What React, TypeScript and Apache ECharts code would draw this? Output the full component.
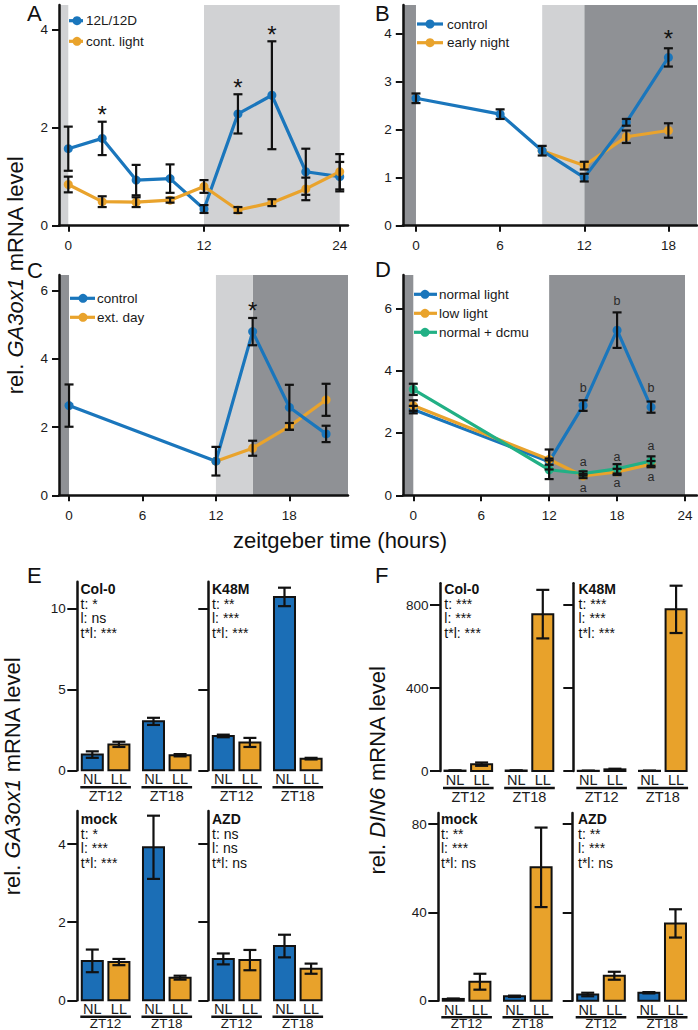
import { useEffect, useRef } from "react";
import * as echarts from "echarts";

const FONT = "'Liberation Sans', Arial, Helvetica, sans-serif";
const INK = "#111111";
const BLUE = "#1a76bc";
const ORANGE = "#e9a32c";
const GREEN = "#22b085";
const BAR_BLUE = "#1b6eb6";
const BAR_ORANGE = "#e8a22b";
const LIGHT = "#d1d2d4";
const DARK = "#8f9195";

// ---------- Panel A ----------
const hoursA = [0, 3, 6, 9, 12, 15, 18, 21, 24];
const a12L12D = [1.57, 1.78, 0.93, 0.96, 0.34, 2.28, 2.66, 1.1, 1.0];
const a12L12DErr = [0.45, 0.34, 0.31, 0.29, 0.08, 0.4, 1.1, 0.47, 0.3];
const aContLight = [0.84, 0.49, 0.48, 0.52, 0.8, 0.32, 0.47, 0.75, 1.1];
const aContLightErr = [0.16, 0.11, 0.1, 0.05, 0.13, 0.06, 0.07, 0.23, 0.36];
const aStarX = [3, 15, 18];
const aStarY = [2.37, 2.91, 4.0];
const aLightShade = [[-0.82, 0], [12, 24]];
const xTicksA = [0, 12, 24];
const yTicksA = [0, 2, 4];

// ---------- Panel B ----------
const hoursB = [0, 6, 9, 12, 15, 18];
const bControl = [2.65, 2.32, 1.56, 1.0, 2.15, 3.5];
const bControlErr = [0.1, 0.1, 0.1, 0.08, 0.07, 0.19];
const hoursBNight = [9, 12, 15, 18];
const bEarlyNight = [1.56, 1.25, 1.85, 1.98];
const bEarlyNightErr = [null, 0.08, 0.13, 0.15];
const bStarX = [18];
const bStarY = [4.0];
const bDarkShade = [[-0.94, 0], [12, 20.04]];
const bLightShade = [[9, 12]];
const xTicksB = [0, 6, 12, 18];
const yTicksB = [0, 1, 2, 3, 4];

// ---------- Panel C ----------
const hoursC = [0, 12, 15, 18, 21];
const cControl = [2.63, 1.0, 4.8, 2.58, 1.8];
const cControlErr = [0.62, 0.42, 0.4, 0.66, 0.24];
const hoursCExt = [12, 15, 18, 21];
const cExtDay = [1.0, 1.38, 2.02, 2.8];
const cExtDayErr = [null, 0.22, 0.1, 0.47];
const cStarX = [15];
const cStarY = [5.56];
const cDarkShade = [[-0.82, 0], [15, 22.79]];
const cLightShade = [[12, 15]];
const xTicksC = [0, 6, 12, 18];
const yTicksC = [0, 2, 4, 6];

// ---------- Panel D ----------
const hoursD = [0, 12, 15, 18, 21];
const dNormal = [2.75, 1.08, 2.88, 5.3, 2.83];
const dNormalErr = [0.12, 0.1, 0.17, 0.57, 0.18];
const dLow = [2.88, 1.15, 0.62, 0.75, 1.0];
const dLowErr = [0.17, 0.32, 0.07, 0.1, 0.1];
const dDcmu = [3.4, 0.82, 0.7, 0.85, 1.1];
const dDcmuErr = [0.18, 0.3, 0.07, 0.15, 0.15];
const dLetterX = [15, 18, 21, 15, 18, 21, 15, 18, 21];
const dLetterY = [3.45, 6.24, 3.45, 1.08, 1.24, 1.59, 0.22, 0.4, 0.6];
const dLetters = ["b", "b", "b", "a", "a", "a", "a", "a", "a"];
const dDarkShade = [[-0.91, 0], [12, 24]];
const xTicksD = [0, 6, 12, 18, 24];
const yTicksD = [0, 2, 4, 6];

// ---------- Panels E / F (bars) ----------
const barConds = ["NL", "LL", "NL", "LL"];
const barTimes = ["ZT12", "ZT18"];

const eCol0 = [0.97, 1.6, 3.02, 0.93];
const eCol0Err = [0.2, 0.16, 0.22, 0.07];
const eK48M = [2.12, 1.72, 10.7, 0.72];
const eK48MErr = [0.08, 0.28, 0.57, 0.05];
const eMock = [1.01, 0.98, 3.92, 0.58];
const eMockErr = [0.29, 0.08, 0.81, 0.05];
const eAZD = [1.06, 1.03, 1.39, 0.81];
const eAZDErr = [0.14, 0.26, 0.29, 0.13];

const fCol0 = [2, 33, 2, 756];
const fCol0Err = [1, 8, 1, 117];
const fK48M = [1, 8, 1, 779];
const fK48MErr = [0.5, 3, 0.5, 114];
const fMock = [0.8, 8.6, 2.0, 60.4];
const fMockErr = [0.2, 3.6, 0.3, 18];
const fAZD = [2.8, 11.3, 3.6, 35];
const fAZDErr = [0.8, 1.8, 0.3, 6.4];

const eCol0Stats = ["t: *", "l: ns", "t*l: ***"];
const eK48MStats = ["t: **", "l: ***", "t*l: ***"];
const eMockStats = ["t: *", "l: ***", "t*l: ***"];
const eAZDStats = ["t: ns", "l: ns", "t*l: ns"];
const fCol0Stats = ["t: ***", "l: ***", "t*l: ***"];
const fK48MStats = ["t: ***", "l: ***", "t*l: ***"];
const fMockStats = ["t: **", "l: ***", "t*l: ns"];
const fAZDStats = ["t: **", "l: ***", "t*l: ns"];

const yTicksE1 = [0, 5, 10];
const yTicksE2 = [0, 2, 4];
const yTicksF1 = [0, 400, 800];
const yTicksF2 = [0, 40, 80];

// ---------- layout ----------
const BW = 0.79;
const BAR_UNIT_MIN = -0.564;
const BAR_UNIT_MAX = 3.947;
const barPos = barConds.map((_, i) => Math.floor(i / 2) * 2.3 + (i % 2));

const lineGrids = [
  { left: 59, top: 5, width: 289, height: 220.7, xmin: -0.82, xmax: 24.73, ymax: 4.5 },
  { left: 402.8, top: 5, width: 294.2, height: 220.7, xmin: -0.94, xmax: 20.04, ymax: 4.59 },
  { left: 59, top: 275, width: 289, height: 220.3, xmin: -0.82, xmax: 22.79, ymax: 6.46 },
  { left: 403, top: 275, width: 294, height: 220.3, xmin: -0.91, xmax: 25.06, ymax: 7.07 },
];

const barPanels = [
  { left: 77.3, top: 581.7, height: 188.6, ymax: 11.64, ticks: yTicksE1, labels: true, title: "Col-0", stats: eCol0Stats, v: eCol0, e: eCol0Err, tx: 80.5, ty: 589, bottom: false },
  { left: 208.3, top: 581.7, height: 188.6, ymax: 11.64, ticks: yTicksE1, labels: false, title: "K48M", stats: eK48MStats, v: eK48M, e: eK48MErr, tx: 212, ty: 589, bottom: false },
  { left: 77.3, top: 811, height: 189.3, ymax: 4.85, ticks: yTicksE2, labels: true, title: "mock", stats: eMockStats, v: eMock, e: eMockErr, tx: 80.8, ty: 819, bottom: true },
  { left: 208.3, top: 811, height: 189.3, ymax: 4.85, ticks: yTicksE2, labels: false, title: "AZD", stats: eAZDStats, v: eAZD, e: eAZDErr, tx: 212, ty: 819, bottom: true },
  { left: 440, top: 583.3, height: 187.7, ymax: 904.6, ticks: yTicksF1, labels: true, title: "Col-0", stats: fCol0Stats, v: fCol0, e: fCol0Err, tx: 444.3, ty: 589, bottom: false },
  { left: 573.3, top: 583.3, height: 187.7, ymax: 904.6, ticks: yTicksF1, labels: false, title: "K48M", stats: fK48MStats, v: fK48M, e: fK48MErr, tx: 578.5, ty: 589, bottom: false },
  { left: 438.3, top: 813, height: 187.7, ymax: 85, ticks: yTicksF2, labels: true, title: "mock", stats: fMockStats, v: fMock, e: fMockErr, tx: 441, ty: 819, bottom: true },
  { left: 572.7, top: 813, height: 187.7, ymax: 85, ticks: yTicksF2, labels: false, title: "AZD", stats: fAZDStats, v: fAZD, e: fAZDErr, tx: 578, ty: 819, bottom: true },
];

function axisCommon(ticks: number[], showLabel: boolean, tickLen: number, margin: number) {
  return {
    z: 6,
    axisLine: { show: true, onZero: false, lineStyle: { color: INK, width: 2.5 } },
    axisTick: { show: true, inside: false, length: tickLen, lineStyle: { color: INK, width: 2 }, customValues: ticks },
    axisLabel: { show: showLabel, customValues: ticks, margin, fontSize: 13.5, color: "#1a1a1a", fontFamily: FONT },
    splitLine: { show: false },
  };
}

function errorBarRender(capHalf: number) {
  return (params: any, api: any) => {
    const x = api.value(0), y = api.value(1), e = api.value(2);
    const t = api.coord([x, y + e]);
    const b = api.coord([x, y - e]);
    const st = { stroke: INK, lineWidth: 2.2 };
    return {
      type: "group",
      children: [
        { type: "line", shape: { x1: t[0], y1: t[1], x2: b[0], y2: b[1] }, style: st },
        { type: "line", shape: { x1: t[0] - capHalf, y1: t[1], x2: t[0] + capHalf, y2: t[1] }, style: st },
        { type: "line", shape: { x1: b[0] - capHalf, y1: b[1], x2: b[0] + capHalf, y2: b[1] }, style: st },
      ],
    };
  };
}

function shadeData(periods: number[][], color: string) {
  return periods.map((p) => [{ xAxis: p[0], itemStyle: { color } }, { xAxis: p[1] }]);
}

function lineSeries(gi: number, name: string, xs: number[], ys: number[], color: string, shade?: any[]) {
  const s: any = {
    type: "line",
    name,
    xAxisIndex: gi,
    yAxisIndex: gi,
    data: xs.map((x, i) => [x, ys[i]]),
    symbol: "circle",
    symbolSize: 9,
    showSymbol: true,
    silent: true,
    z: 3,
    lineStyle: { color, width: 3.2 },
    itemStyle: { color },
  };
  if (shade) s.markArea = { silent: true, z: 1, data: shade };
  return s;
}

function errSeries(gi: number, xs: number[], ys: number[], errs: (number | null)[]) {
  return {
    type: "custom",
    xAxisIndex: gi,
    yAxisIndex: gi,
    z: 4,
    silent: true,
    clip: false,
    data: xs.map((x, i) => [x, ys[i], errs[i]]).filter((d) => d[2] != null),
    renderItem: errorBarRender(4.5),
  };
}

function textSeries(gi: number, xs: number[], ys: number[], texts: string[], fontSize: number, dy: number, color: string) {
  return {
    type: "custom",
    xAxisIndex: gi,
    yAxisIndex: gi,
    z: 5,
    silent: true,
    clip: false,
    data: xs.map((x, i) => [x, ys[i]]),
    renderItem: (params: any, api: any) => {
      const p = api.coord([api.value(0), api.value(1)]);
      return {
        type: "text",
        x: p[0],
        y: p[1] + dy,
        style: { text: texts[params.dataIndex], fontSize, fontFamily: FONT, fill: color, align: "center", verticalAlign: "middle" },
      };
    },
  };
}

function barSeries(gi: number, values: number[], errs: number[]) {
  return {
    type: "custom",
    xAxisIndex: gi,
    yAxisIndex: gi,
    z: 3,
    silent: true,
    clip: false,
    data: values.map((v, i) => [barPos[i], v, errs[i]]),
    renderItem: (params: any, api: any) => {
      const i = params.dataIndex;
      const x = api.value(0), v = api.value(1), e = api.value(2);
      const l = api.coord([x - BW / 2, 0]);
      const r = api.coord([x + BW / 2, v]);
      const c = api.coord([x, 0]);
      const t = api.coord([x, v + e]);
      const b = api.coord([x, Math.max(v - e, 0)]);
      const cap = 6.5;
      const st = { stroke: INK, lineWidth: 2.2 };
      return {
        type: "group",
        children: [
          {
            type: "rect",
            shape: { x: l[0], y: r[1], width: r[0] - l[0], height: l[1] - r[1] },
            style: { fill: barConds[i] === "NL" ? BAR_BLUE : BAR_ORANGE, stroke: INK, lineWidth: 2 },
          },
          { type: "line", shape: { x1: t[0], y1: t[1], x2: b[0], y2: b[1] }, style: st },
          { type: "line", shape: { x1: t[0] - cap, y1: t[1], x2: t[0] + cap, y2: t[1] }, style: st },
          { type: "line", shape: { x1: b[0] - cap, y1: b[1], x2: b[0] + cap, y2: b[1] }, style: st },
          {
            type: "text",
            x: c[0],
            y: c[1] + 9,
            style: { text: barConds[i], fontSize: 14.5, fontFamily: FONT, fill: "#1a1a1a", align: "center", verticalAlign: "middle" },
          },
        ],
      };
    },
  };
}

function groupSeries(gi: number, bottomRow: boolean) {
  const lineDy = bottomRow ? 16.5 : 17;
  const textDy = bottomRow ? 23 : 25.5;
  const fs = bottomRow ? 13.5 : 14.5;
  return {
    type: "custom",
    xAxisIndex: gi,
    yAxisIndex: gi,
    z: 3,
    silent: true,
    clip: false,
    data: barTimes.map((_, g) => [barPos[g * 2], barPos[g * 2 + 1]]),
    renderItem: (params: any, api: any) => {
      const a = api.coord([api.value(0) - BW / 2, 0]);
      const b = api.coord([api.value(1) + BW / 2, 0]);
      return {
        type: "group",
        children: [
          { type: "line", shape: { x1: a[0] - 1.5, y1: a[1] + lineDy, x2: b[0] + 1.5, y2: a[1] + lineDy }, style: { stroke: INK, lineWidth: 2.6 } },
          {
            type: "text",
            x: (a[0] + b[0]) / 2,
            y: a[1] + textDy,
            style: { text: barTimes[params.dataIndex], fontSize: fs, fontFamily: FONT, fill: "#1a1a1a", align: "center", verticalAlign: "middle" },
          },
        ],
      };
    },
  };
}

function legendGraphics(x1: number, x2: number, cx: number, tx: number, ys: number[], names: string[], colors: string[]) {
  const out: any[] = [];
  ys.forEach((y, i) => {
    out.push({ type: "line", z: 20, shape: { x1, y1: y, x2, y2: y }, style: { stroke: colors[i], lineWidth: 3.2 } });
    out.push({ type: "circle", z: 20, shape: { cx, cy: y, r: 4.5 }, style: { fill: colors[i] } });
    out.push({ type: "text", z: 20, x: tx, y, style: { text: names[i], fontSize: 13.5, fontFamily: FONT, fill: "#1a1a1a", align: "left", verticalAlign: "middle" } });
  });
  return out;
}

function buildOption() {
  const grid: any[] = [];
  const xAxis: any[] = [];
  const yAxis: any[] = [];
  const series: any[] = [];
  const graphic: any[] = [];

  const lineX = [xTicksA, xTicksB, xTicksC, xTicksD];
  const lineY = [yTicksA, yTicksB, yTicksC, yTicksD];
  lineGrids.forEach((g, i) => {
    grid.push({ left: g.left, top: g.top, width: g.width, height: g.height, outerBoundsMode: "none" });
    xAxis.push({ type: "value", gridIndex: i, min: g.xmin, max: g.xmax, ...axisCommon(lineX[i], true, 6, 13) });
    yAxis.push({ type: "value", gridIndex: i, min: 0, max: g.ymax, ...axisCommon(lineY[i], true, 7, 11) });
  });

  barPanels.forEach((p, k) => {
    const gi = 4 + k;
    grid.push({ left: p.left, top: p.top, width: 120, height: p.height, outerBoundsMode: "none" });
    xAxis.push({ type: "value", gridIndex: gi, min: BAR_UNIT_MIN, max: BAR_UNIT_MAX, show: false });
    yAxis.push({ type: "value", gridIndex: gi, min: 0, max: p.ymax, ...axisCommon(p.ticks, p.labels, 10, 11.5) });
    series.push(barSeries(gi, p.v, p.e));
    series.push(groupSeries(gi, p.bottom));
    graphic.push({ type: "text", z: 20, x: p.tx, y: p.ty, style: { text: p.title, fontSize: 14, fontWeight: "bold", fontFamily: FONT, fill: INK, align: "left", verticalAlign: "middle" } });
    p.stats.forEach((s, j) => {
      graphic.push({ type: "text", z: 20, x: p.tx, y: p.ty + 14.5 * (j + 1), style: { text: s, fontSize: 14, fontFamily: FONT, fill: INK, align: "left", verticalAlign: "middle" } });
    });
  });

  // Panel A
  series.push(lineSeries(0, "12L/12D", hoursA, a12L12D, BLUE, shadeData(aLightShade, LIGHT)));
  series.push(lineSeries(0, "cont. light", hoursA, aContLight, ORANGE));
  series.push(errSeries(0, hoursA, a12L12D, a12L12DErr));
  series.push(errSeries(0, hoursA, aContLight, aContLightErr));
  series.push(textSeries(0, aStarX, aStarY, aStarX.map(() => "*"), 24, 5, INK));

  // Panel B
  series.push(lineSeries(1, "early night", hoursBNight, bEarlyNight, ORANGE, [...shadeData(bDarkShade, DARK), ...shadeData(bLightShade, LIGHT)]));
  series.push(lineSeries(1, "control", hoursB, bControl, BLUE));
  series.push(errSeries(1, hoursB, bControl, bControlErr));
  series.push(errSeries(1, hoursBNight, bEarlyNight, bEarlyNightErr));
  series.push(textSeries(1, bStarX, bStarY, bStarX.map(() => "*"), 24, 5, INK));

  // Panel C
  series.push(lineSeries(2, "ext. day", hoursCExt, cExtDay, ORANGE, [...shadeData(cDarkShade, DARK), ...shadeData(cLightShade, LIGHT)]));
  series.push(lineSeries(2, "control", hoursC, cControl, BLUE));
  series.push(errSeries(2, hoursC, cControl, cControlErr));
  series.push(errSeries(2, hoursCExt, cExtDay, cExtDayErr));
  series.push(textSeries(2, cStarX, cStarY, cStarX.map(() => "*"), 24, 5, INK));

  // Panel D
  series.push(lineSeries(3, "normal light", hoursD, dNormal, BLUE, shadeData(dDarkShade, DARK)));
  series.push(lineSeries(3, "low light", hoursD, dLow, ORANGE));
  series.push(lineSeries(3, "normal + dcmu", hoursD, dDcmu, GREEN));
  series.push(errSeries(3, hoursD, dNormal, dNormalErr));
  series.push(errSeries(3, hoursD, dLow, dLowErr));
  series.push(errSeries(3, hoursD, dDcmu, dDcmuErr));
  series.push(textSeries(3, dLetterX, dLetterY, dLetters, 12.5, 0, "#2a2a2a"));

  // legends
  graphic.push(...legendGraphics(69, 83, 77, 86, [20.7, 41.3], ["12L/12D", "cont. light"], [BLUE, ORANGE]));
  graphic.push(...legendGraphics(417, 443, 430, 447, [24, 42.7], ["control", "early night"], [BLUE, ORANGE]));
  graphic.push(...legendGraphics(70, 95, 83, 97, [298.3, 317.3], ["control", "ext. day"], [BLUE, ORANGE]));
  graphic.push(...legendGraphics(414, 437, 425, 439, [294.3, 313.3, 332.3], ["normal light", "low light", "normal + dcmu"], [BLUE, ORANGE, GREEN]));

  // panel letters
  const letters: [string, number, number][] = [
    ["A", 27, 13], ["B", 375, 13], ["C", 27, 270], ["D", 375, 269], ["E", 27, 575], ["F", 375, 575],
  ];
  letters.forEach(([t, x, y]) => {
    graphic.push({ type: "text", z: 20, x, y, style: { text: t, fontSize: 22, fontFamily: FONT, fill: INK, align: "left", verticalAlign: "middle" } });
  });

  // axis titles
  graphic.push({ type: "text", z: 20, x: 340, y: 540, style: { text: "zeitgeber time (hours)", fontSize: 22, fontFamily: FONT, fill: INK, align: "center", verticalAlign: "middle" } });
  const yTitle = (x: number, y: number, gene: string) => ({
    type: "text",
    z: 20,
    x,
    y,
    rotation: Math.PI / 2,
    style: {
      text: "rel. {i|" + gene + "} mRNA level",
      rich: { i: { fontStyle: "italic", fontSize: 22, fontFamily: FONT, fill: INK } },
      fontSize: 22,
      fontFamily: FONT,
      fill: INK,
      align: "center",
      verticalAlign: "middle",
    },
  });
  graphic.push(yTitle(15, 275, "GA3ox1"));
  graphic.push(yTitle(12, 776, "GA3ox1"));
  graphic.push(yTitle(377, 770, "DIN6"));

  return {
    animation: false,
    backgroundColor: "#ffffff",
    textStyle: { fontFamily: FONT },
    grid,
    xAxis,
    yAxis,
    series,
    graphic,
  };
}

export default function App() {
  const ref = useRef<HTMLDivElement>(null);
  useEffect(() => {
    const chart = echarts.init(ref.current!, undefined, { renderer: "svg" });
    chart.setOption(buildOption() as any);
    return () => chart.dispose();
  }, []);
  return <div ref={ref} style={{ position: "absolute", left: 0, top: 0, width: 698, height: 1030 }} />;
}
